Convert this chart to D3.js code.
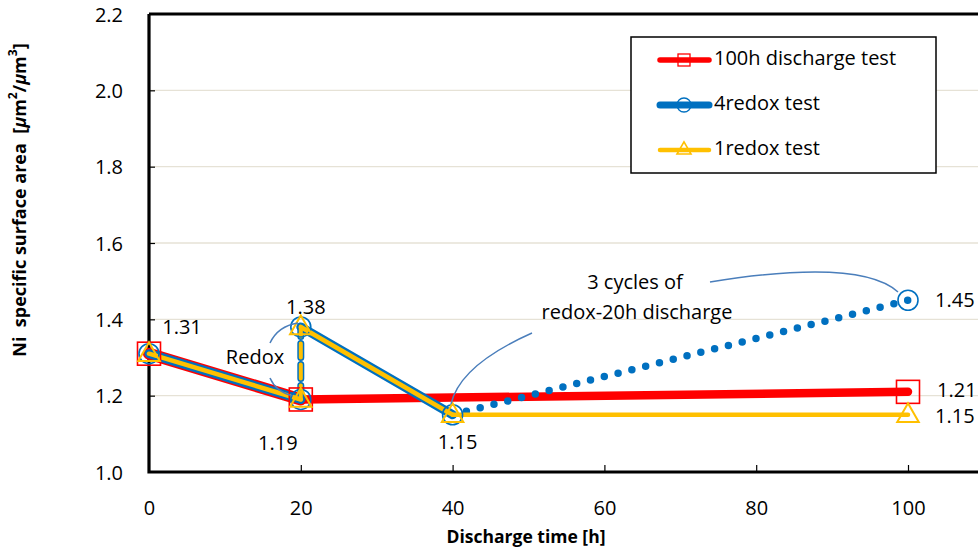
<!DOCTYPE html>
<html>
<head>
<meta charset="utf-8">
<script src="https://cdn.jsdelivr.net/npm/d3@7"></script>
<style>
  html, body { margin: 0; padding: 0; background: #fff; }
  svg { display: block; font-family: "Open Sans", "Noto Sans", sans-serif; }
</style>
</head>
<body>
<svg id="chart" width="978" height="553"></svg>
<script>
// Discharge time [h] and Ni specific surface area [µm²/µm³]
const series100hTime = [0, 20, 100];
const series100hValue = [1.31, 1.19, 1.21];

const series4redoxTime = [0, 20, 20, 40, 100];
const series4redoxValue = [1.31, 1.19, 1.38, 1.15, 1.45];

const series1redoxTime = [0, 20, 20, 40, 100];
const series1redoxValue = [1.31, 1.19, 1.38, 1.15, 1.15];

const seriesNames = ["100h discharge test", "4redox test", "1redox test"];

const xTicks = [0, 20, 40, 60, 80, 100];
const yTicks = [1.0, 1.2, 1.4, 1.6, 1.8, 2.0, 2.2];

const RED = "#ff0000", BLUE = "#0070c0", YELLOW = "#ffc000", CALLOUT = "#4a7ebb";
const FS = 20;

const svg = d3.select("#chart");
const plotLeft = 149, plotBottom = 472, plotTop = 14;

const x = d3.scaleLinear().domain([0, 120]).range([plotLeft, plotLeft + 6 * 151.8]);
const y = d3.scaleLinear().domain([1.0, 2.2]).range([plotBottom, plotTop]);

const pts = (t, v) => t.map((d, i) => [d, v[i]]);
const red = pts(series100hTime, series100hValue);
const blue = pts(series4redoxTime, series4redoxValue);
const yellow = pts(series1redoxTime, series1redoxValue);

// horizontal gridlines
svg.append("g").selectAll("line").data(yTicks.slice(1)).join("line")
  .attr("x1", plotLeft).attr("x2", 978)
  .attr("y1", d => y(d)).attr("y2", d => y(d))
  .attr("stroke", "#e6e2d6").attr("stroke-width", 1.3);

// axes with inward ticks
const xAxis = svg.append("g").attr("transform", `translate(0,${plotBottom})`)
  .call(d3.axisBottom(x).tickValues(xTicks).tickSizeInner(-7).tickSizeOuter(0).tickPadding(36));
const yAxis = svg.append("g").attr("transform", `translate(${plotLeft},0)`)
  .call(d3.axisLeft(y).tickValues(yTicks).tickFormat(d3.format(".1f")).tickSizeInner(-6).tickSizeOuter(0).tickPadding(26));
[xAxis, yAxis].forEach(a => {
  a.select(".domain").remove();
  a.selectAll(".tick line").attr("stroke", "#000").attr("stroke-width", 1.2);
  a.selectAll("text").attr("font-size", FS).attr("fill", "#000").attr("font-family", "'Open Sans', sans-serif");
});
yAxis.selectAll(".tick").filter(d => d === 1.0 || d === 2.2).select("line").remove();
xAxis.selectAll(".tick").filter(d => d === 0).select("line").remove();
xAxis.selectAll("text").attr("dy", "0.35em");
yAxis.selectAll("text").attr("dy", "0.35em");

// plot frame
svg.append("path")
  .attr("d", `M${plotLeft},${plotTop} L${plotLeft},${plotBottom} L978,${plotBottom} M${plotLeft},${plotTop} L978,${plotTop}`)
  .attr("fill", "none").attr("stroke", "#000").attr("stroke-width", 3.2);

const line = d3.line().x(d => x(d[0])).y(d => y(d[1]));
const seg = (arr, i) => line([arr[i], arr[i + 1]]);

const g = svg.append("g");

// 100h discharge test
const redWidth = [12, 8.5];
redWidth.forEach((w, i) => {
  g.append("path").attr("d", seg(red, i)).attr("fill", "none")
    .attr("stroke", RED).attr("stroke-width", w).attr("stroke-linecap", "round");
});

// 4redox test: solid, dashed (redox step), solid, dotted (3 cycles)
const blueStyle = [
  { w: 9, dash: null },
  { w: 7, dash: "14 7" },
  { w: 9, dash: null },
  { w: 7.5, dot: 14.4 }
];
blueStyle.forEach((s, i) => {
  const p = g.append("path").attr("d", seg(blue, i)).attr("fill", "none")
    .attr("stroke", BLUE).attr("stroke-width", s.w).attr("stroke-linecap", "round");
  if (s.dash) p.attr("stroke-dasharray", s.dash);
  if (s.dot) {
    // space the round dots so one lands on each end of the segment
    const len = p.node().getTotalLength();
    const gap = len / Math.round(len / s.dot) - 0.01;
    p.attr("stroke-dasharray", `0 ${gap}`);
  }
});

// 1redox test drawn above
const yellowStyle = [
  { w: 4.5, dash: null },
  { w: 4, dash: "14 7" },
  { w: 4.5, dash: null },
  { w: 4.5, dash: null }
];
yellowStyle.forEach((s, i) => {
  g.append("path").attr("d", seg(yellow, i)).attr("fill", "none")
    .attr("stroke", YELLOW).attr("stroke-width", s.w).attr("stroke-linecap", "round")
    .attr("stroke-dasharray", s.dash);
});

// markers
const sq = 23;
g.selectAll("rect.m").data(red).join("rect").attr("class", "m")
  .attr("x", d => x(d[0]) - sq / 2).attr("y", d => y(d[1]) - sq / 2)
  .attr("width", sq).attr("height", sq)
  .attr("fill", "none").attr("stroke", RED).attr("stroke-width", 1.6);
g.selectAll("circle.m").data(blue).join("circle").attr("class", "m")
  .attr("cx", d => x(d[0])).attr("cy", d => y(d[1])).attr("r", 10)
  .attr("fill", "none").attr("stroke", BLUE).attr("stroke-width", 1.6);
const tri = d3.symbol().type(d3.symbolTriangle).size(200);
g.selectAll("path.tri").data(yellow).join("path").attr("class", "tri")
  .attr("transform", d => `translate(${x(d[0])},${y(d[1]) + 1})`)
  .attr("d", tri).attr("fill", "none").attr("stroke", YELLOW).attr("stroke-width", 2);

// value labels
const fmt = d3.format(".2f");
const labels = [
  { p: blue[0], dx: 33, dy: -25, anchor: "middle" },
  { p: blue[2], dx: 5, dy: -18, anchor: "middle" },
  { p: blue[1], dx: -23, dy: 45, anchor: "middle" },
  { p: blue[3], dx: 5, dy: 29, anchor: "middle" },
  { p: blue[4], dx: 27, dy: 1, anchor: "start" },
  { p: red[2], dx: 29, dy: 0, anchor: "start" },
  { p: yellow[4], dx: 27, dy: 3, anchor: "start" }
];
svg.append("g").selectAll("text").data(labels).join("text")
  .attr("x", d => x(d.p[0]) + d.dx).attr("y", d => y(d.p[1]) + d.dy)
  .attr("text-anchor", d => d.anchor).attr("dominant-baseline", "middle")
  .attr("font-size", FS).attr("fill", "#000")
  .text(d => fmt(d.p[1]));

// callouts
const ann = svg.append("g");
ann.append("text").attr("x", 255).attr("y", 359).attr("text-anchor", "middle")
  .attr("dominant-baseline", "middle").attr("font-size", FS).text("Redox");
ann.append("text").attr("x", 635).attr("y", 284).attr("text-anchor", "middle")
  .attr("dominant-baseline", "middle").attr("font-size", FS).text("3 cycles of");
ann.append("text").attr("x", 637).attr("y", 314).attr("text-anchor", "middle")
  .attr("dominant-baseline", "middle").attr("font-size", FS).text("redox-20h discharge");

const callouts = [
  "M270,343 Q278,326 298,323",
  "M270,378 Q276,392 293,396",
  "M532,333 Q460,365 451,404",
  "M710,282 Q860,258 898,292"
];
ann.selectAll("path").data(callouts).join("path").attr("d", d => d)
  .attr("fill", "none").attr("stroke", CALLOUT).attr("stroke-width", 1.5);

// axis titles
svg.append("text").attr("x", 526).attr("y", 538).attr("text-anchor", "middle")
  .attr("dominant-baseline", "middle").attr("font-size", 17.5).attr("font-weight", "bold")
  .text("Discharge time [h]");
const yt = svg.append("text").attr("transform", "translate(21,200) rotate(-90)")
  .attr("text-anchor", "middle").attr("dominant-baseline", "middle")
  .attr("font-size", 18).attr("font-weight", "bold");
yt.append("tspan").text("Ni\u00a0 specific surface area \u00a0[");
yt.append("tspan").attr("font-style", "italic").text("\u03bc");
yt.append("tspan").text("m");
yt.append("tspan").attr("font-size", 12).attr("dy", -7).text("2");
yt.append("tspan").attr("dy", 7).text("/");
yt.append("tspan").attr("font-style", "italic").text("\u03bc");
yt.append("tspan").text("m");
yt.append("tspan").attr("font-size", 12).attr("dy", -7).text("3");
yt.append("tspan").attr("dy", 7).text("]");

// legend
const lg = svg.append("g");
lg.append("rect").attr("x", 631).attr("y", 37).attr("width", 305).attr("height", 136)
  .attr("fill", "#fff").attr("stroke", "#000").attr("stroke-width", 1.5);
const rows = [
  { c: RED, w: 5.5, m: "square", yy: 60 },
  { c: BLUE, w: 7, m: "circle", yy: 105 },
  { c: YELLOW, w: 4.5, m: "triangle", yy: 150 }
];
rows.forEach((r, i) => {
  lg.append("line").attr("x1", 660).attr("x2", 709).attr("y1", r.yy).attr("y2", r.yy)
    .attr("stroke", r.c).attr("stroke-width", r.w).attr("stroke-linecap", "round");
  if (r.m === "square") {
    lg.append("rect").attr("x", 678).attr("y", r.yy - 6).attr("width", 12).attr("height", 12)
      .attr("fill", "none").attr("stroke", r.c).attr("stroke-width", 1.3);
  } else if (r.m === "circle") {
    lg.append("circle").attr("cx", 684).attr("cy", r.yy).attr("r", 7)
      .attr("fill", "none").attr("stroke", r.c).attr("stroke-width", 1.3);
  } else {
    lg.append("path").attr("transform", `translate(684,${r.yy})`)
      .attr("d", d3.symbol().type(d3.symbolTriangle).size(85))
      .attr("fill", "none").attr("stroke", r.c).attr("stroke-width", 1.6);
  }
  lg.append("text").attr("x", 714).attr("y", r.yy).attr("dominant-baseline", "middle")
    .attr("font-size", FS).text(seriesNames[i]);
});
</script>
</body>
</html>
